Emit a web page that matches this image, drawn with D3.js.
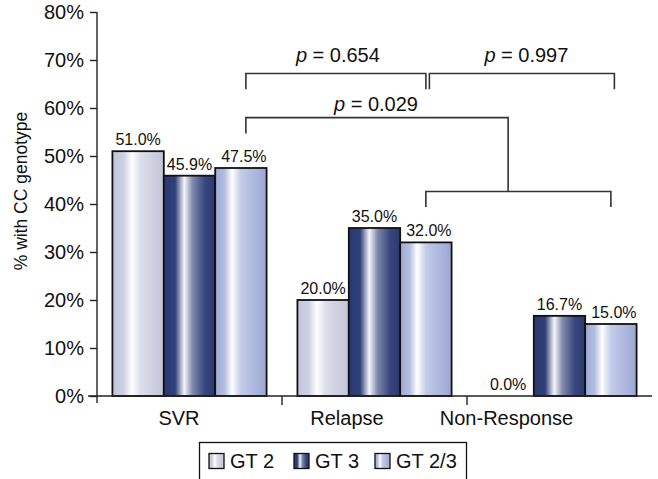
<!DOCTYPE html>
<html>
<head>
<meta charset="utf-8">
<script src="https://cdn.jsdelivr.net/npm/d3@7"></script>
<style>
  html, body { margin: 0; padding: 0; background: #fff; }
  svg { display: block; font-family: "Liberation Sans", Arial, sans-serif; }
</style>
</head>
<body>
<svg id="chart" width="658" height="479"></svg>
<script>
// Share of patients with the IL28B CC genotype by treatment outcome
const categories = ["SVR", "Relapse", "Non-Response"];
const seriesNames = ["GT 2", "GT 3", "GT 2/3"];
const gt2Values = [51.0, 20.0, 0.0];
const gt3Values = [45.9, 35.0, 16.7];
const gt23Values = [47.5, 32.0, 15.0];
const yTickValues = [0, 10, 20, 30, 40, 50, 60, 70, 80];
const pValues = ["0.654", "0.997", "0.029"];

const seriesValues = [gt2Values, gt3Values, gt23Values];

const svg = d3.select("#chart");
const ink = "#222";

// horizontal "cylinder" shading for each series
const gradients = [
  [[0, "#c2c4d9"], [0.22, "#cfd1e3"], [0.38, "#ffffff"], [0.55, "#dcdeea"], [1, "#c2c4d9"]],
  [[0, "#2a3970"], [0.22, "#2f3f79"], [0.4, "#f4f5f9"], [0.56, "#7f89ab"], [0.8, "#37467d"], [1, "#2a3970"]],
  [[0, "#9eabd7"], [0.18, "#b3bde0"], [0.33, "#ffffff"], [0.5, "#c3cbe8"], [1, "#9ba8d5"]]
];
const defs = svg.append("defs");
gradients.forEach((stops, i) => {
  const g = defs.append("linearGradient")
    .attr("id", "grad" + i)
    .attr("x1", 0).attr("x2", 1).attr("y1", 0).attr("y2", 0);
  stops.forEach(s => g.append("stop").attr("offset", s[0]).attr("stop-color", s[1]));
});

// scales
const y = d3.scaleLinear().domain([0, 80]).range([396, 12]);
const x = d3.scaleBand().domain(categories).range([97, 652]).padding(0);
const xs = d3.scaleBand().domain(seriesNames).range([0, x.bandwidth()])
  .paddingInner(0).paddingOuter(0.3);
const cx = (c, s) => x(c) + xs(s) + xs.bandwidth() / 2;

// y axis
const yAxis = d3.axisLeft(y)
  .tickValues(yTickValues)
  .tickFormat(d => d + "%")
  .tickSize(7)
  .tickSizeOuter(0)
  .tickPadding(6);
const yg = svg.append("g").attr("transform", "translate(97,0)").call(yAxis);
yg.select(".domain").remove();
yg.selectAll(".tick line").attr("stroke", ink).attr("stroke-width", 1.4);
yg.selectAll(".tick text")
  .attr("font-size", 20)
  .attr("fill", "#111")
  .attr("font-family", "Liberation Sans, Arial, sans-serif");
svg.append("line")
  .attr("x1", 97).attr("x2", 97)
  .attr("y1", y(80)).attr("y2", y(0) + 7)
  .attr("stroke", ink).attr("stroke-width", 1.4);

// y axis title
svg.append("text")
  .attr("transform", `translate(27,${(y(0) + y(80)) / 2 - 13}) rotate(-90)`)
  .attr("text-anchor", "middle")
  .attr("font-size", 17.5)
  .attr("fill", "#111")
  .text("% with CC genotype");

// bars
const groups = svg.selectAll("g.cat")
  .data(categories)
  .join("g")
  .attr("class", "cat")
  .attr("transform", c => `translate(${x(c)},0)`);

groups.each(function (c, ci) {
  const g = d3.select(this);
  const rows = seriesNames.map((s, si) => ({ s, si, v: seriesValues[si][ci] }));
  g.selectAll("rect")
    .data(rows.filter(d => d.v > 0))
    .join("rect")
    .attr("x", d => xs(d.s))
    .attr("y", d => y(d.v))
    .attr("width", xs.bandwidth())
    .attr("height", d => y(0) - y(d.v))
    .attr("fill", d => `url(#grad${d.si})`)
    .attr("stroke", "#111")
    .attr("stroke-width", 1.8);
  g.selectAll("text.val")
    .data(rows)
    .join("text")
    .attr("class", "val")
    .attr("x", d => xs(d.s) + xs.bandwidth() / 2 + (d.si === 2 ? 3 : 0))
    .attr("y", d => y(d.v) - 6)
    .attr("text-anchor", "middle")
    .attr("font-size", 16)
    .attr("fill", "#111")
    .text(d => d.v.toFixed(1) + "%");
});

// x axis line and category boundary ticks
svg.append("line")
  .attr("x1", 88).attr("x2", x.range()[1])
  .attr("y1", y(0)).attr("y2", y(0))
  .attr("stroke", ink).attr("stroke-width", 1.4);
categories.slice(1).forEach(c => {
  svg.append("line")
    .attr("x1", x(c)).attr("x2", x(c))
    .attr("y1", y(0)).attr("y2", y(0) + 9)
    .attr("stroke", ink).attr("stroke-width", 1.4);
});

// category labels
const labelShift = [-10.5, -27.5, -53];
svg.selectAll("text.cat")
  .data(categories)
  .join("text")
  .attr("class", "cat")
  .attr("x", (c, i) => x(c) + x.bandwidth() / 2 + labelShift[i])
  .attr("y", y(0) + 29)
  .attr("text-anchor", "middle")
  .attr("font-size", 20)
  .attr("fill", "#111")
  .text(c => c);

// significance brackets
const bracketColor = "#333";
const path = d3.path;
function drawPath(p) {
  svg.append("path")
    .attr("d", p.toString())
    .attr("fill", "none")
    .attr("stroke", bracketColor)
    .attr("stroke-width", 1.6);
}
function bracket(x1, x2, yTop, yLeg) {
  const p = path();
  p.moveTo(x1, yLeg); p.lineTo(x1, yTop); p.lineTo(x2, yTop); p.lineTo(x2, yLeg);
  drawPath(p);
}
const svrEdge = cx("SVR", "GT 2/3") + 5;
const relEdge = cx("Relapse", "GT 2/3");
const nrEdge = cx("Non-Response", "GT 2/3");
const nrDrop = cx("Non-Response", "GT 2");

// SVR vs Relapse, Relapse vs Non-Response
bracket(svrEdge, relEdge, y(67.2), y(63.9));
bracket(relEdge + 3.5, nrEdge + 3.5, y(67.2), y(63.9));
// SVR vs (Relapse + Non-Response)
{
  const p = path();
  p.moveTo(svrEdge, y(54.7));
  p.lineTo(svrEdge, y(58.0));
  p.lineTo(nrDrop, y(58.0));
  p.lineTo(nrDrop, y(42.6));
  drawPath(p);
}
bracket(relEdge, nrEdge, y(42.6), y(39.4));

function pLabel(xc, yBase, val) {
  const t = svg.append("text")
    .attr("x", xc).attr("y", yBase)
    .attr("text-anchor", "middle")
    .attr("font-size", 20)
    .attr("fill", "#111");
  t.append("tspan").attr("font-style", "italic").text("p");
  t.append("tspan").text(" = " + val);
}
pLabel((svrEdge + relEdge) / 2 + 2, y(69.5), pValues[0]);
pLabel((relEdge + nrEdge) / 2 + 8, y(69.5), pValues[1]);
pLabel((svrEdge + nrDrop) / 2 - 1, y(59.3), pValues[2]);

// legend
const legend = svg.append("g");
legend.append("rect")
  .attr("x", 199.5).attr("y", 442.5)
  .attr("width", 267).attr("height", 60)
  .attr("fill", "#fff")
  .attr("stroke", "#111").attr("stroke-width", 1.3);
const legendX = [209, 294, 375];
seriesNames.forEach((s, i) => {
  legend.append("rect")
    .attr("x", legendX[i]).attr("y", 453.5)
    .attr("width", 15).attr("height", 15)
    .attr("fill", `url(#grad${i})`)
    .attr("stroke", "#111").attr("stroke-width", 1.3);
  legend.append("text")
    .attr("x", legendX[i] + 21).attr("y", 467.5)
    .attr("font-size", 20)
    .attr("fill", "#111")
    .text(s);
});
</script>
</body>
</html>
